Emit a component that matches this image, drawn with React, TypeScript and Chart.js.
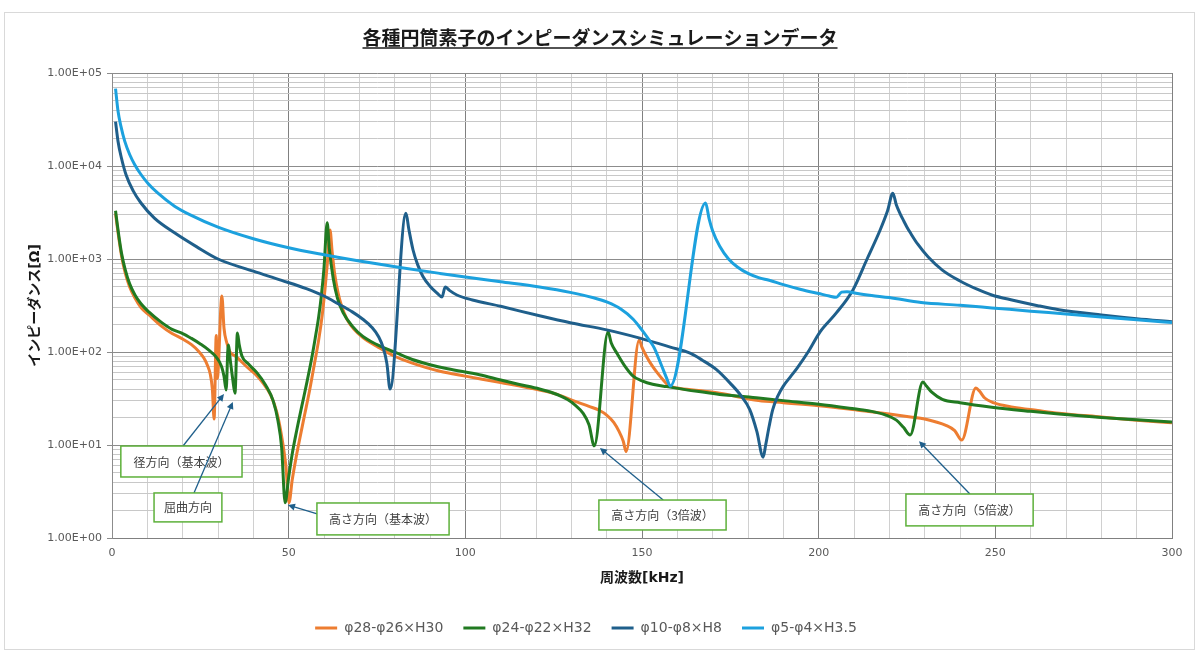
import React, { useEffect, useRef } from 'react';
import { Chart, registerables } from 'chart.js';

Chart.register(...registerables);

const chartTitle = '各種円筒素子のインピーダンスシミュレーションデータ';
const xAxisTitle = '周波数[kHz]';
const yAxisTitle = 'インピーダンス[Ω]';

const seriesNames = ['φ28-φ26×H30', 'φ24-φ22×H32', 'φ10-φ8×H8', 'φ5-φ4×H3.5'];
const seriesColors = ['#ED7D31', '#217A21', '#1F5F8B', '#1CA1DE'];

const xMajorTicks = [0, 50, 100, 150, 200, 250, 300];
const yDecadeTicks = [1, 10, 100, 1000, 10000, 100000];
const yTickLabels = ['1.00E+00', '1.00E+01', '1.00E+02', '1.00E+03', '1.00E+04', '1.00E+05'];
const yMinorMultipliers = [2, 3, 4, 5, 6, 7, 8, 9];

// [frequency kHz, impedance Ω]
const orangeSeries: [number, number][] = [
  [1, 3100], [1.5, 2200], [2, 1600], [2.7, 1080], [3.7, 720], [5, 500], [6.5, 380], [8.2, 300],
  [10.5, 250], [14, 190], [17, 158], [20, 138], [22.5, 120], [24.5, 102], [26, 86], [27, 72],
  [27.8, 58], [28.4, 40], [28.9, 19], [29.5, 150], [29.8, 52], [31.1, 400], [31.7, 180], [32.5, 125],
  [33.4, 100], [35, 90], [38.2, 69], [40.5, 58], [42.8, 46], [45, 34], [46.7, 22], [48, 12.5],
  [49.2, 6], [50.1, 2.4], [51, 4.2], [52, 7], [53.2, 12], [54.5, 21], [56, 40], [57.3, 75],
  [58.5, 135], [59.5, 250], [60.3, 480], [61, 950], [61.7, 2050], [62.3, 1200], [63, 700], [64, 430],
  [65, 310], [66.5, 225], [68.5, 175], [71, 143], [75, 115], [80, 90], [85, 76], [92.8, 62], [100, 55],
  [110, 47], [121, 39], [126, 35], [130.5, 30], [135, 26], [138, 23.5], [140, 21], [142, 17.5],
  [143.5, 14], [144.7, 11], [145.5, 8.5], [149.2, 135], [150, 112], [151.4, 88], [153, 70], [154.3, 60],
  [156, 50], [157.4, 44], [160, 41], [166, 38.5], [172, 36], [183, 30], [190, 28.5], [200, 26.5],
  [211.7, 23.5], [220, 21.5], [226, 20], [230, 19], [233, 17.8], [236, 16.3], [238.5, 14.3],
  [240.5, 11.3], [244.5, 41], [245.5, 38], [247, 32], [249.4, 28.5], [255, 25.5], [262, 23.5],
  [268, 22], [280, 20], [290, 18.5], [300, 17.3],
];

const greenSeries: [number, number][] = [
  [1, 3300], [1.5, 2350], [2, 1700], [2.7, 1150], [3.7, 780], [5, 540], [6.5, 410], [8.2, 330],
  [10.5, 268], [14, 208], [17, 175], [20, 158], [22.5, 140], [25, 122], [27.5, 104], [29.5, 88],
  [31, 70], [31.7, 55], [32.3, 39], [32.9, 119], [33.5, 80], [34.2, 50], [34.8, 36], [35.5, 160],
  [36, 120], [36.8, 90], [38.5, 75], [41, 60], [43.5, 44], [45.6, 30], [47, 18], [48, 9.5], [49, 2.4],
  [50, 4.5], [51, 8], [52.3, 14.5], [53.7, 26], [55.2, 48], [56.5, 85], [57.5, 140], [58.5, 240],
  [59.3, 420], [60, 800], [60.9, 2450], [61.5, 1300], [62.6, 620], [63.8, 380], [65.4, 265], [68, 190],
  [71, 147], [75, 120], [80.7, 97], [85, 83], [90, 73], [95, 66], [104, 57], [110, 50], [115, 45],
  [121, 40], [125, 36], [128.8, 31], [131, 27], [133.3, 22], [135, 16.5], [136.5, 9.8], [140.4, 164],
  [141.3, 125], [142.9, 97], [145, 72], [147.5, 55], [150, 49], [153, 45], [157, 42.5], [165, 38],
  [172, 35], [178, 33.5], [183, 32], [190, 30], [200, 27.5], [210, 24.5], [215, 23], [219, 21],
  [222, 18.5], [224, 15.5], [225.9, 12.8], [229.5, 47.5], [230.5, 43], [232, 37], [235, 31], [240, 28.5],
  [249, 25.5], [260, 23], [268, 21.5], [280, 19.8], [290, 18.7], [300, 17.7],
];

const darkBlueSeries: [number, number][] = [
  [1, 30000], [1.7, 18500], [2.6, 12500], [4, 8000], [6, 5400], [8.2, 4000], [12, 2750], [17.8, 1900],
  [24, 1350], [30, 1000], [40, 740], [48, 590], [55, 480], [60, 400], [64, 330], [68, 270], [71, 225],
  [73.5, 185], [75.5, 145], [76.8, 110], [77.8, 75], [78.7, 40], [83.2, 3100], [84, 2100], [85.2, 1250],
  [86.5, 870], [88, 650], [90, 510], [92, 430], [93.4, 390], [94.3, 500], [95.5, 460], [97.6, 410],
  [102, 363], [110, 310], [121, 245], [130, 205], [140, 173], [149.4, 141], [158, 113], [163.6, 97],
  [167, 82], [171, 65], [175, 46], [178, 34], [180.5, 24], [182.5, 14], [184.3, 7.4], [185, 10],
  [186, 16], [187, 24], [188.5, 34], [190, 43], [192, 54], [194, 68], [197, 100], [200.4, 165],
  [205, 263], [209.7, 465], [213.7, 1000], [217.4, 2050], [219.5, 3300], [221, 5100], [222, 3800],
  [223, 3100], [224, 2600], [225, 2200], [226, 1900], [228, 1450], [231, 1050], [235, 760], [240, 580],
  [245, 470], [249, 410], [255, 360], [262, 315], [268, 285], [280, 250], [290, 228], [300, 212],
];

const lightBlueSeries: [number, number][] = [
  [1, 68000], [1.7, 39000], [2.5, 27000], [3.6, 18500], [5, 13300], [6.4, 10400], [8.2, 8100],
  [10.2, 6500], [13, 5100], [17.7, 3700], [22, 3000], [30, 2200], [40, 1650], [50, 1320], [60, 1110],
  [70, 950], [81.5, 810], [92.8, 700], [100, 640], [110, 570], [121, 500], [130, 435], [136, 385],
  [140, 345], [144, 290], [147.5, 225], [150, 172], [152, 135], [153.5, 110], [155.5, 72], [157, 52],
  [158, 43], [168, 4000], [169, 2700], [170, 2000], [172, 1370], [174.5, 1000], [177, 820], [180, 700],
  [183, 630], [186, 590], [190, 530], [195, 470], [200, 425], [203, 400], [205, 388], [206.5, 440],
  [208, 445], [211, 425], [215, 405], [220, 385], [229, 340], [240, 318], [249, 298], [260, 275],
  [270, 256], [280, 238], [290, 222], [300, 207],
];

const seriesData = [orangeSeries, greenSeries, darkBlueSeries, lightBlueSeries];

// annotation callouts in data coordinates: box corners, arrow start, arrow tip
const callouts = [
  { text: '径方向（基本波）', box: [2.5, 9.75, 36.8, 4.53], from: [20.1, 9.75], to: [31.7, 35.3] },
  { text: '屈曲方向', box: [11.9, 3.05, 31.1, 1.49], from: [23.2, 3.05], to: [34.2, 29] },
  { text: '高さ方向（基本波）', box: [58.0, 2.38, 95.4, 1.08], from: [58.3, 1.81], to: [49.8, 2.26] },
  { text: '高さ方向（3倍波）', box: [137.8, 2.56, 173.8, 1.22], from: [156, 2.56], to: [138.1, 9.29] },
  { text: '高さ方向（5倍波）', box: [224.7, 2.97, 260.7, 1.35], from: [242.8, 2.97], to: [228.4, 11.0] },
];

const isDecade = (v: number) => yDecadeTicks.some((d) => Math.abs(d - v) < 1e-9 * d);

const framePlugin = {
  id: 'frame',
  beforeDraw(chart: any) {
    const { ctx, width, height } = chart;
    ctx.save();
    ctx.fillStyle = '#ffffff';
    ctx.fillRect(0, 0, width, height);
    ctx.strokeStyle = '#d9d9d9';
    ctx.lineWidth = 1;
    ctx.strokeRect(4.5, 12.5, 1190, 637);
    ctx.restore();
  },
  afterDraw(chart: any) {
    const { ctx } = chart;
    ctx.save();
    ctx.font = "bold 19px 'Noto Sans CJK JP', sans-serif";
    ctx.fillStyle = '#1a1a1a';
    ctx.textAlign = 'center';
    ctx.textBaseline = 'middle';
    const cx = 600;
    const cy = 38;
    ctx.fillText(chartTitle, cx, cy);
    const w = ctx.measureText(chartTitle).width;
    ctx.strokeStyle = '#1a1a1a';
    ctx.lineWidth = 1.5;
    ctx.beginPath();
    ctx.moveTo(cx - w / 2, 48);
    ctx.lineTo(cx + w / 2, 48);
    ctx.stroke();
    ctx.restore();
  },
};

const calloutPlugin = {
  id: 'callouts',
  afterDatasetsDraw(chart: any) {
    const { ctx } = chart;
    const xs = chart.scales.x;
    const ys = chart.scales.y;
    ctx.save();
    callouts.forEach((c) => {
      const x1 = xs.getPixelForValue(c.box[0]);
      const y1 = ys.getPixelForValue(c.box[1]);
      const x2 = xs.getPixelForValue(c.box[2]);
      const y2 = ys.getPixelForValue(c.box[3]);
      const fx = xs.getPixelForValue(c.from[0]);
      const fy = ys.getPixelForValue(c.from[1]);
      const tx = xs.getPixelForValue(c.to[0]);
      const ty = ys.getPixelForValue(c.to[1]);
      ctx.strokeStyle = '#1F5F8B';
      ctx.fillStyle = '#1F5F8B';
      ctx.lineWidth = 1.3;
      const ang = Math.atan2(ty - fy, tx - fx);
      const hl = 7;
      const hw = 3.5;
      ctx.beginPath();
      ctx.moveTo(fx, fy);
      ctx.lineTo(tx - Math.cos(ang) * hl * 0.8, ty - Math.sin(ang) * hl * 0.8);
      ctx.stroke();
      ctx.beginPath();
      ctx.moveTo(tx, ty);
      ctx.lineTo(tx - Math.cos(ang) * hl - Math.sin(ang) * hw, ty - Math.sin(ang) * hl + Math.cos(ang) * hw);
      ctx.lineTo(tx - Math.cos(ang) * hl + Math.sin(ang) * hw, ty - Math.sin(ang) * hl - Math.cos(ang) * hw);
      ctx.closePath();
      ctx.fill();
      ctx.fillStyle = '#ffffff';
      ctx.fillRect(x1, y1, x2 - x1, y2 - y1);
      ctx.strokeStyle = '#5DB03A';
      ctx.lineWidth = 1.5;
      ctx.strokeRect(x1, y1, x2 - x1, y2 - y1);
      ctx.fillStyle = '#404040';
      ctx.font = "12px 'Noto Sans CJK JP', sans-serif";
      ctx.textAlign = 'center';
      ctx.textBaseline = 'middle';
      ctx.fillText(c.text, (x1 + x2) / 2, (y1 + y2) / 2 + 0.5);
    });
    ctx.restore();
  },
};

export default function App() {
  const canvasRef = useRef<HTMLCanvasElement | null>(null);

  useEffect(() => {
    if (!canvasRef.current) return;
    Chart.defaults.font.family = "'DejaVu Sans', 'Noto Sans CJK JP', sans-serif";
    const datasets = seriesData.map((s, i) => ({
      label: seriesNames[i],
      data: s.map(([x, y]) => ({ x, y })),
      borderColor: seriesColors[i],
      backgroundColor: seriesColors[i],
      borderWidth: 3,
      pointRadius: 0,
      pointHoverRadius: 0,
      cubicInterpolationMode: 'monotone' as const,
      order: seriesData.length - i,
    }));

    const chart = new Chart(canvasRef.current, {
      type: 'line',
      data: { datasets },
      options: {
        responsive: false,
        animation: false,
        events: [],
        layout: { padding: { top: 73, right: 28, bottom: 12, left: 0 } },
        scales: {
          x: {
            type: 'linear',
            min: 0,
            max: 300,
            afterFit: (scale: any) => {
              scale.height = 63;
            },
            ticks: {
              stepSize: 10,
              autoSkip: false,
              maxRotation: 0,
              padding: 9,
              color: '#595959',
              font: { size: 11 },
              callback: (v: any) => (xMajorTicks.includes(Number(v)) ? String(v) : ''),
            },
            grid: {
              color: (c: any) => (c.tick && xMajorTicks.includes(c.tick.value) ? '#808080' : '#d0d0d0'),
              lineWidth: 1,
              drawTicks: false,
            },
            border: { color: '#808080' },
            title: {
              display: true,
              text: xAxisTitle,
              color: '#1a1a1a',
              font: { size: 14, weight: 'bold' },
              padding: { top: 0, bottom: 14.6 },
            },
          },
          y: {
            type: 'logarithmic',
            min: 1,
            max: 100000,
            afterFit: (scale: any) => {
              scale.width = 112;
            },
            afterBuildTicks: (scale: any) => {
              const t: { value: number }[] = [];
              yDecadeTicks.forEach((d, i) => {
                t.push({ value: d });
                if (i < yDecadeTicks.length - 1) {
                  yMinorMultipliers.forEach((m) => t.push({ value: m * d }));
                }
              });
              scale.ticks = t;
            },
            ticks: {
              autoSkip: false,
              padding: 5,
              color: '#595959',
              font: { size: 11 },
              callback: (v: any) => {
                const idx = yDecadeTicks.findIndex((d) => Math.abs(d - Number(v)) < 1e-9 * d);
                return idx >= 0 ? yTickLabels[idx] : '';
              },
            },
            grid: {
              color: (c: any) => (c.tick && isDecade(c.tick.value) ? '#8c8c8c' : '#c8c8c8'),
              tickColor: (c: any) => (c.tick && isDecade(c.tick.value) ? '#8c8c8c' : 'rgba(0,0,0,0)'),
              tickLength: 5,
              lineWidth: 1,
            },
            border: { color: '#8c8c8c' },
            title: {
              display: true,
              text: yAxisTitle,
              color: '#1a1a1a',
              font: { size: 14, weight: 'bold' },
              padding: { top: 26.6, bottom: 0 },
            },
          },
        },
        plugins: {
          title: { display: false },
          tooltip: { enabled: false },
          legend: {
            display: true,
            position: 'bottom',
            labels: {
              boxWidth: 22,
              boxHeight: 3,
              padding: 20,
              color: '#595959',
              font: { size: 14 },
              generateLabels: (ch: any) => {
                const items = (Chart.defaults.plugins.legend.labels as any).generateLabels(ch);
                return items
                  .map((it: any) => ({ ...it, fillStyle: it.strokeStyle, lineWidth: 0 }))
                  .sort((a: any, b: any) => a.datasetIndex - b.datasetIndex);
              },
            },
          },
        },
      },
      plugins: [framePlugin, calloutPlugin],
    } as any);

    return () => chart.destroy();
  }, []);

  return (
    <div style={{ position: 'absolute', left: 0, top: 0, width: 1200, height: 657, background: '#fff' }}>
      <canvas ref={canvasRef} width={1200} height={657} />
    </div>
  );
}
